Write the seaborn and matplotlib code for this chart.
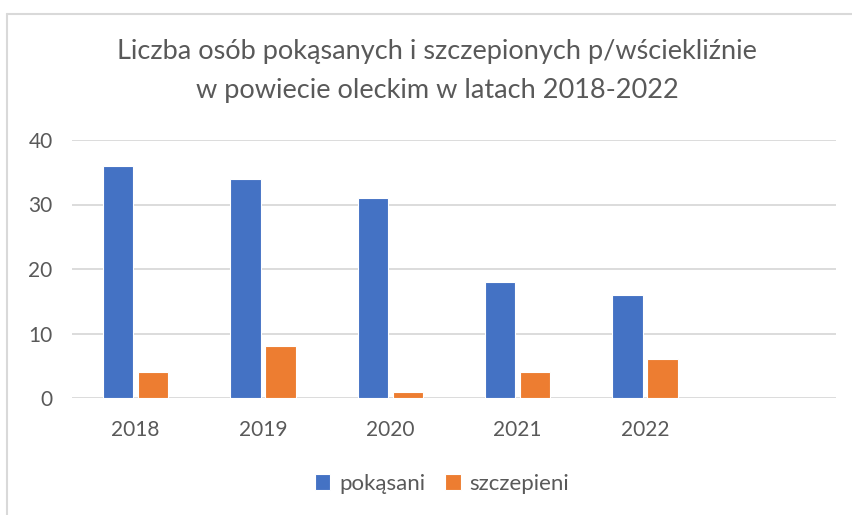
import matplotlib
matplotlib.use("Agg")
import matplotlib.pyplot as plt
from matplotlib.lines import Line2D
import seaborn as sns
import pandas as pd

years = ["2018", "2019", "2020", "2021", "2022"]
pokasani = [36, 34, 31, 18, 16]
szczepieni = [4, 8, 1, 4, 6]
series_names = ["pokąsani", "szczepieni"]
colors = ["#4472C4", "#ED7D31"]
title = "Liczba osób pokąsanych i szczepionych p/wściekliźnie\nw powiecie oleckim w latach 2018-2022"

df = pd.DataFrame({
    "rok": years * 2,
    "wartosc": pokasani + szczepieni,
    "seria": [series_names[0]] * len(years) + [series_names[1]] * len(years),
})

sns.set_style("white")
plt.rcParams["font.family"] = ["Lato", "DejaVu Sans"]

W, H = 853, 515
fig = plt.figure(figsize=(W / 100, H / 100), dpi=100)
ax = fig.add_axes([72 / W, (H - 398) / H, 764 / W, (398 - 140) / H])

sns.barplot(data=df, x="rok", y="wartosc", hue="seria", order=years,
            hue_order=series_names, palette=colors, saturation=1,
            width=0.55, gap=0.14, edgecolor="white", linewidth=0.8,
            ax=ax, legend=True)

ax.set_xlim(-0.5, 5.5)
ax.set_ylim(0, 40)
ax.set_yticks([0, 10, 20, 30, 40])
ax.yaxis.grid(True, color="#D9D9D9", linewidth=1.3)
ax.set_axisbelow(True)
for s in ax.spines.values():
    s.set_visible(False)
ax.set_xlabel("")
ax.set_ylabel("")
ax.tick_params(axis="y", length=0, pad=14, labelsize=15, labelcolor="#595959")
ax.tick_params(axis="x", length=0, pad=16, labelsize=15, labelcolor="#595959")

fig.text(437 / W, (H - 71) / H, title, ha="center", va="center",
         fontsize=19.5, color="#595959", linespacing=1.68)

handles, labels = ax.get_legend_handles_labels()
ax.legend_.remove()
fig.legend(handles, labels, loc="center", bbox_to_anchor=(442 / W, (H - 484) / H),
           ncol=2, frameon=False, fontsize=16, labelcolor="#595959",
           handlelength=0.7, handleheight=0.7, handletextpad=0.4, columnspacing=0.9)

# chart area frame (cropped)
fig.add_artist(Line2D([7 / W, 1], [(H - 14) / H, (H - 14) / H], color="#D9D9D9", linewidth=1.5))
fig.add_artist(Line2D([7 / W, 7 / W], [0, (H - 14) / H], color="#D9D9D9", linewidth=1.5))

fig.savefig("out.png", dpi=100)
